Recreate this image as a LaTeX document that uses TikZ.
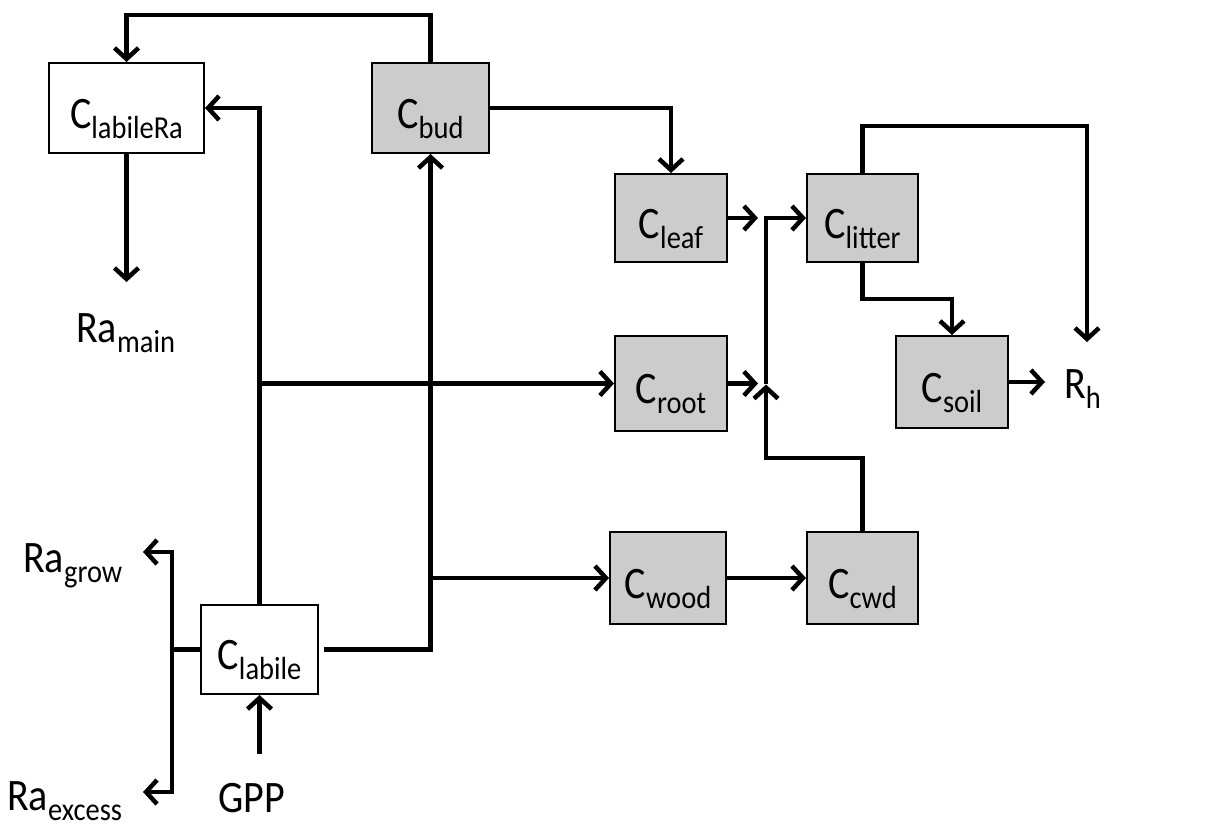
\documentclass[tikz,border=0pt]{standalone}
\usepackage{fontspec}
\setmainfont{Carlito}
\usetikzlibrary{arrows.meta}
\definecolor{boxgray}{HTML}{CCCCCC}
\newcommand\mainfs{\fontsize{45}{48}\selectfont}
\newcommand\subfs{\fontsize{32}{34}\selectfont}
\newcommand\lbl[2]{\scalebox{0.89}[1]{\mainfs #1\raisebox{-10pt}{\subfs #2}}}
\begin{document}
\begin{tikzpicture}[x=1pt,y=-1pt,
  box/.style={draw=black, line width=2pt, rectangle, inner sep=0pt, text height=40pt, text depth=0pt},
  pool/.style={box, fill=boxgray},
  flow/.style={line width=4.5pt, -{Straight Barb[length=11pt,width=24pt]}},
  link/.style={line width=4.5pt},
  lab/.style={anchor=base west, inner sep=0pt}]
\useasboundingbox (0,0) rectangle (1207,827);

% boxes
\node[box, minimum width=155pt, minimum height=90pt] (labra) at (126.5,108) {\lbl{C}{labileRa}};
\node[pool, minimum width=117pt, minimum height=90pt] (bud) at (430.5,108) {\lbl{C}{bud}};
\node[pool, minimum width=112pt, minimum height=88pt] (leaf) at (671,218) {\lbl{C}{leaf}};
\node[pool, minimum width=111pt, minimum height=88pt] (litter) at (862.5,218) {\lbl{C}{litter}};
\node[pool, minimum width=112pt, minimum height=95pt] (root) at (671,383.5) {\lbl{C}{root}};
\node[pool, minimum width=112pt, minimum height=92pt] (soil) at (952,382) {\lbl{C}{soil}};
\node[pool, minimum width=116pt, minimum height=92pt] (wood) at (668,578) {\lbl{C}{wood}};
\node[pool, minimum width=111pt, minimum height=92pt] (cwd) at (862.5,578) {\lbl{C}{cwd}};
\node[box, minimum width=117pt, minimum height=89pt] (labile) at (259.5,649.5) {\lbl{C}{labile}};

% text labels
\node[lab] (ramain) at (76,342) {\lbl{Ra}{main}};
\node[lab] (ragrow) at (23,572) {\lbl{Ra}{grow}};
\node[lab] (raexcess) at (7,810) {\lbl{Ra}{excess}};
\node[lab] (gpp) at (218,812) {\scalebox{0.89}[1]{\mainfs GPP}};
\node[lab] (rh) at (1064,398) {\lbl{R}{h}};

% helper coordinates
\coordinate (topbend) at (430.5,15);
\coordinate (ramaintip) at (126.5,282);
\coordinate (jx) at (766,0);
\coordinate (cwdbend) at (766,458);
\coordinate (littop) at (1087,126);
\coordinate (rhtip) at (1087,342);
\coordinate (litbend) at (862.5,299);
\coordinate (soiltip) at (1045,382);
\coordinate (lg) at (172,552);
\coordinate (le) at (172,792);
\coordinate (grtip) at (143,552);
\coordinate (extip) at (143,792);
\coordinate (gppstart) at (259.5,754);

% connectors
\draw[flow] (bud.north) -- (topbend) -| (labra.north);
\draw[flow] (labile.north) |- (labra.east);
\draw[flow] (labra.south) -- (ramaintip);
\draw[flow] ([xshift=5pt]labile.east) -| (bud.south);
\draw[flow] (labile.north |- root.west) -- (root.west);
\draw[flow] (bud.south |- wood.west) -- (wood.west);
\draw[flow] (bud.east) -| (leaf.north);
\draw[flow, shorten >=8pt] (leaf.east) -- (leaf.east -| jx);
\draw[flow, shorten >=8pt] (root.east) -- (root.east -| jx);
\draw[flow] (root.east -| jx) |- (litter.west);
\draw[flow, shorten >=1pt] (cwd.north) |- (cwdbend) -- (root.east -| jx);
\draw[flow] (wood.east) -- (cwd.west);
\draw[flow] (litter.north) |- (littop) -- (rhtip);
\draw[flow] (litter.south) -- (litbend) -| (soil.north);
\draw[flow] (soil.east) -- (soiltip);
\draw[link] (labile.west) -- (labile.west -| lg);
\draw[flow] (labile.west -| lg) -- (lg) -- (grtip);
\draw[flow] (labile.west -| lg) -- (le) -- (extip);
\draw[flow] (gppstart) -- (labile.south);
\end{tikzpicture}
\end{document}
